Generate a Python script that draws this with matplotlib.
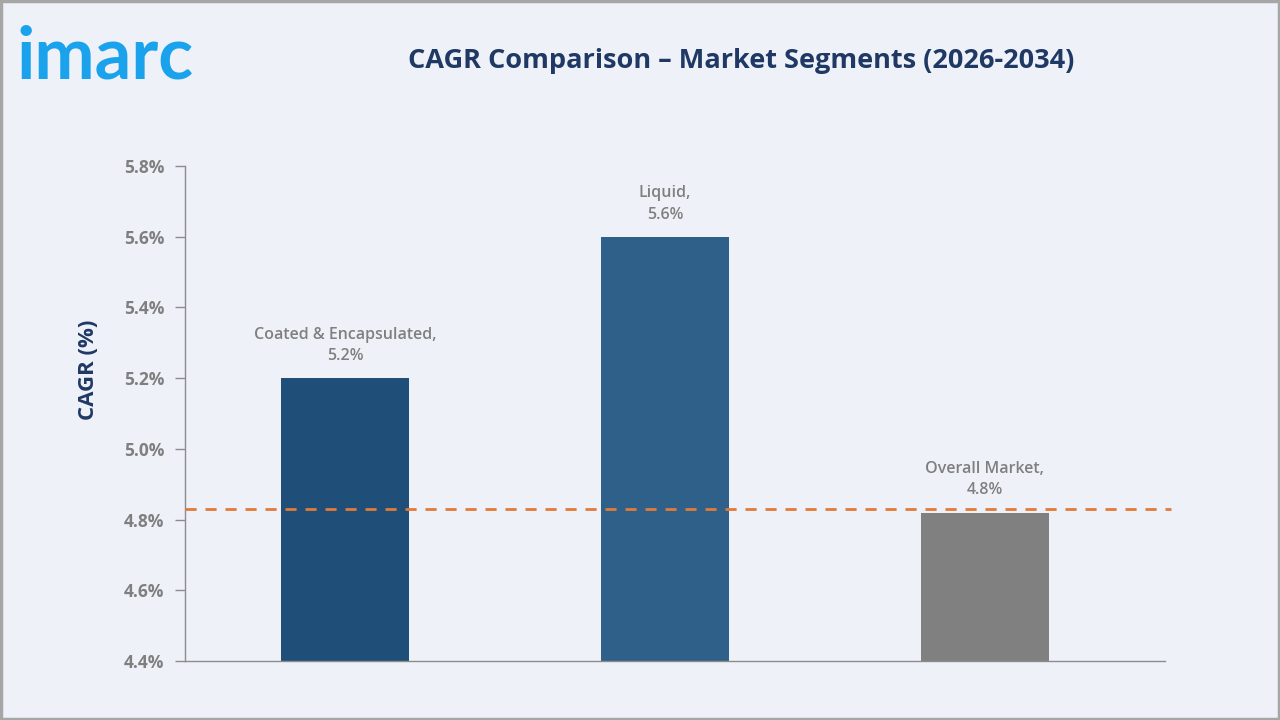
import matplotlib.pyplot as plt
from matplotlib.patches import Rectangle

# chart data
segments = ['Coated & Encapsulated', 'Liquid', 'Overall Market']
cagr = [5.2, 5.6, 4.82]
value_labels = ['5.2%', '5.6%', '4.8%']
overall_line = 4.83
yticks = [4.4, 4.6, 4.8, 5.0, 5.2, 5.4, 5.6, 5.8]

bar_colors = ['#1F4E79', '#2E6089', '#808080']
bg = '#EEF2F8'
navy = '#1F3864'
grey_txt = '#7F7F7F'

plt.rcParams['font.family'] = ['Open Sans', 'DejaVu Sans']

fig = plt.figure(figsize=(12.8, 7.2), dpi=100, facecolor=bg)
ax = fig.add_axes([0.1445, 0.0819, 0.7656, 0.6875], facecolor=bg)

x = list(range(len(segments)))
bars = ax.bar(x, cagr, width=0.4, color=bar_colors, zorder=2)

ax.axhline(overall_line, xmax=1.006, color='#E07B39', linestyle=(0, (4, 3.2)),
           linewidth=2, zorder=3, clip_on=False)

# labels above bars
for xi, name, v, lab in zip(x, segments, cagr, value_labels):
    ax.text(xi, v + 0.04, name + ',\n' + lab, ha='center', va='bottom',
            fontsize=11.5, color=grey_txt, fontweight='semibold', linespacing=1.45)

ax.set_xlim(-0.5, 2.5625)
ax.set_ylim(4.4, 5.8)
ax.set_yticks(yticks)
ax.set_yticklabels(['%.1f%%' % t for t in yticks], fontsize=12.5, color=grey_txt,
                   fontweight='bold')
ax.set_xticks([])
ax.tick_params(axis='y', length=7, color='#8C8C8C', width=1, pad=8)

for s in ['top', 'right']:
    ax.spines[s].set_visible(False)
for s in ['left', 'bottom']:
    ax.spines[s].set_color('#8C8C8C')
    ax.spines[s].set_linewidth(1)

fig.text(0.069, 0.486, 'CAGR (%)', rotation=90, ha='center', va='center',
         fontsize=16, color=navy, fontweight='bold')

fig.text(0.579, 0.915, 'CAGR Comparison \u2013 Market Segments (2026-2034)',
         ha='center', va='center', fontsize=19.5, fontweight='bold', color=navy)

# logo text
fig.text(0.013, 0.92, 'imarc', ha='left', va='center', fontsize=52,
         fontweight='bold', color='#1AA3EC', family=['Lato', 'DejaVu Sans'])

# border
fig.patches.append(Rectangle((0.001, 0.001), 0.998, 0.997, transform=fig.transFigure,
                             fill=False, edgecolor='#A6A6A6', linewidth=2.5))

fig.savefig('out.png', dpi=100, facecolor=bg)
